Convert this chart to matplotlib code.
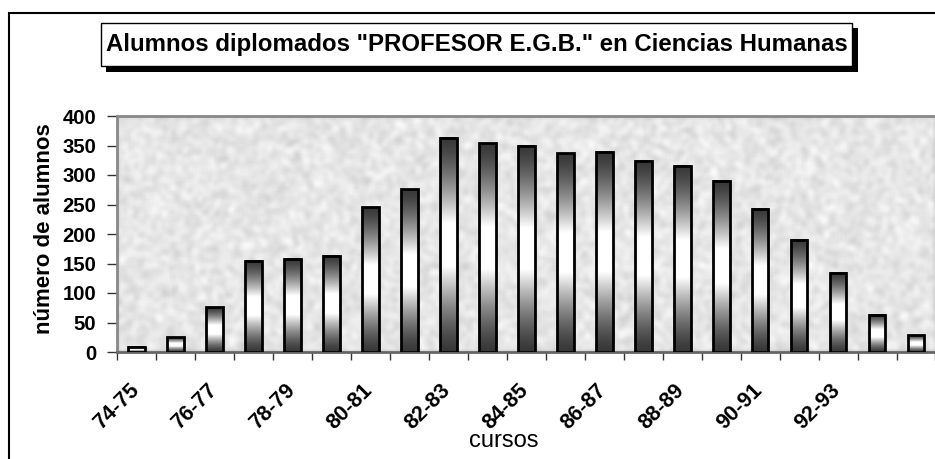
import numpy as np
import matplotlib
matplotlib.use("Agg")
import matplotlib.pyplot as plt
from matplotlib.patches import Rectangle
from matplotlib.transforms import offset_copy

plt.rcParams['font.family'] = ['Liberation Sans', 'DejaVu Sans']

# Data
cursos = ["74-75", "75-76", "76-77", "77-78", "78-79", "79-80", "80-81",
          "81-82", "82-83", "83-84", "84-85", "85-86", "86-87", "87-88",
          "88-89", "89-90", "90-91", "91-92", "92-93", "93-94", "94-95"]
alumnos = [9, 25, 76, 155, 158, 163, 245, 276, 363, 354, 350, 337, 339,
           324, 316, 290, 243, 190, 134, 63, 28]
labelled = ["74-75", "76-77", "78-79", "80-81", "82-83", "84-85",
            "86-87", "88-89", "90-91", "92-93"]
yticks = [0, 50, 100, 150, 200, 250, 300, 350, 400]

W, H = 935, 459
fig = plt.figure(figsize=(W / 100, H / 100), dpi=100)

def px(x0, y0, x1, y1):
    # pixel box (top-left origin) -> figure fraction rect
    return (x0 / W, 1 - y1 / H, (x1 - x0) / W, (y1 - y0) / H)

# outer chart border
fig.add_artist(Rectangle((9 / W, -0.1), 1.2, 0.1 + 1 - 13 / H,
                         transform=fig.transFigure, fill=False,
                         edgecolor='black', lw=1.5))

ax = fig.add_axes(px(117, 116, 935.5, 352))

# textured grey plot background
rng = np.random.default_rng(7)
tex = rng.random((120, 420))
k = np.ones(3) / 3
for _ in range(2):
    tex = np.apply_along_axis(lambda r: np.convolve(r, k, mode='same'), 1, tex)
    tex = np.apply_along_axis(lambda c: np.convolve(c, k, mode='same'), 0, tex)
tex = 0.9 + (tex - tex.mean()) * 0.35
ax.imshow(tex, extent=[-0.5, len(cursos) - 0.5, 0, 400], aspect='auto',
          cmap='gray', vmin=0, vmax=1, interpolation='bilinear', zorder=0)

# gradient bars
width = 0.43
t = np.linspace(0, 1, 200)
v = 1 - np.abs(2 * t - 1)
grad = 0.22 + 0.78 * np.clip(v * 1.25, 0, 1) ** 1.4
grad = grad[::-1].reshape(-1, 1)
x = np.arange(len(cursos))
for xi, h in zip(x, alumnos):
    ax.imshow(grad, extent=[xi - width / 2, xi + width / 2, 0, h],
              aspect='auto', cmap='gray', vmin=0, vmax=1,
              interpolation='bilinear', zorder=2)
ax.bar(x, alumnos, width=width, fill=False, edgecolor='black', lw=2, zorder=3)

ax.set_xlim(-0.5, len(cursos) - 0.5)
ax.set_ylim(0, 400)
ax.set_yticks(yticks)
ax.set_yticklabels([str(v) for v in yticks], fontsize=14.6, fontweight='bold')
ax.tick_params(axis='y', direction='out', length=7, width=1, pad=8, color='#333333')
ax.set_xticks(np.arange(len(cursos) + 1) - 0.5)
ax.set_xticklabels([])
ax.tick_params(axis='x', direction='out', length=6, width=1, color='#333333')

for s in ['top', 'left']:
    ax.spines[s].set_color('#888888')
    ax.spines[s].set_linewidth(2)
ax.spines['bottom'].set_color('#666666')
ax.spines['bottom'].set_linewidth(2)
ax.spines['right'].set_visible(False)

# rotated category labels
trans = offset_copy(ax.get_xaxis_transform(), fig=fig, x=-8, y=-28, units='dots')
for name in labelled:
    i = cursos.index(name)
    ax.text(i, 0, name, transform=trans, rotation=45, rotation_mode='anchor',
            ha='right', va='top', fontsize=15.5, fontweight='bold')

fig.text(504 / W, 1 - 447 / H, "cursos", ha='center', va='baseline', fontsize=17)
fig.text(45 / W, 1 - 229 / H, "número de alumnos", ha='center', va='center',
         rotation=90, fontsize=16, fontweight='bold')

# title box with shadow
fig.add_artist(Rectangle(px(106, 28, 858, 72)[:2], *px(106, 28, 858, 72)[2:],
                         transform=fig.transFigure, facecolor='black',
                         edgecolor='none'))
fig.add_artist(Rectangle(px(101, 23, 852, 66)[:2], *px(101, 23, 852, 66)[2:],
                         transform=fig.transFigure, facecolor='white',
                         edgecolor='black', lw=1))
fig.text(476.5 / W, 1 - 45 / H,
         'Alumnos diplomados "PROFESOR E.G.B." en Ciencias Humanas',
         ha='center', va='center', fontsize=17.3, fontweight='bold')

fig.savefig("out.png", dpi=100)
